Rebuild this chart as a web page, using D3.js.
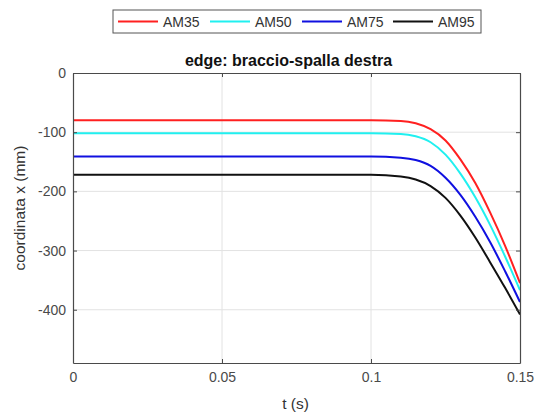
<!DOCTYPE html>
<html><head><meta charset="utf-8">
<script src="https://cdn.jsdelivr.net/npm/d3@7"></script>
<style>body{margin:0;background:#fff}svg{display:block}text{font-family:"Liberation Sans",Arial,sans-serif}</style>
</head><body><svg id="c" width="542" height="418"></svg>
<script>
const times = [0, 0.05, 0.1, 0.11, 0.115, 0.12, 0.125, 0.13, 0.135, 0.14, 0.145, 0.15];
const am35 = [-80, -80, -80, -81, -85, -95, -114, -146, -186, -236, -292, -355];
const am50 = [-102, -102, -102, -103, -107, -117, -138, -170, -210, -257, -310, -367];
const am75 = [-141, -141, -141, -143, -147, -157, -177, -206, -243, -286, -335, -387];
const am95 = [-172, -172, -172, -175, -180, -191, -211, -241, -278, -320, -363, -408];
const seriesNames = ["AM35", "AM50", "AM75", "AM95"];
const seriesColors = ["#ff2020", "#20f0f0", "#1010e0", "#111111"];
const xTicks = [0, 0.05, 0.1, 0.15];
const xTickLabels = ["0", "0.05", "0.1", "0.15"];
const yTicks = [0, -100, -200, -300, -400];
const yTickLabels = ["0", "-100", "-200", "-300", "-400"];
const series = [am35, am50, am75, am95];

const svg = d3.select("#c");
const L = 73, R = 520, T = 73, B = 363;
const x = d3.scaleLinear().domain([0, 0.15]).range([L, R]);
const y = d3.scaleLinear().domain([-490, 0]).range([B, T]);

// grid
svg.append("g").selectAll("line").data(xTicks.slice(1, -1)).join("line")
  .attr("x1", d => x(d)).attr("x2", d => x(d)).attr("y1", T).attr("y2", B)
  .attr("stroke", "#e2e2e2").attr("stroke-width", 1);
svg.append("g").selectAll("line").data(yTicks.slice(1)).join("line")
  .attr("x1", L).attr("x2", R).attr("y1", d => y(d)).attr("y2", d => y(d))
  .attr("stroke", "#e2e2e2").attr("stroke-width", 1);

// lines
const line = d3.line().x((d, i) => x(times[i])).y(d => y(d)).curve(d3.curveMonotoneX);
series.forEach((s, k) => {
  svg.append("path").attr("d", line(s)).attr("fill", "none")
    .attr("stroke", seriesColors[k]).attr("stroke-width", 2);
});

// axes (MATLAB style, inner ticks, box)
const ax = "#4a4a4a";
const xb = svg.append("g").attr("transform", `translate(0,${B})`)
  .call(d3.axisBottom(x).tickValues(xTicks).tickFormat((d, i) => xTickLabels[i]).tickSizeInner(-4).tickSizeOuter(0).tickPadding(9));
const xt = svg.append("g").attr("transform", `translate(0,${T})`)
  .call(d3.axisTop(x).tickValues(xTicks).tickFormat("").tickSizeInner(-4).tickSizeOuter(0));
const yl = svg.append("g").attr("transform", `translate(${L},0)`)
  .call(d3.axisLeft(y).tickValues(yTicks).tickFormat((d, i) => yTickLabels[i]).tickSizeInner(-4).tickSizeOuter(0).tickPadding(7));
const yr = svg.append("g").attr("transform", `translate(${R},0)`)
  .call(d3.axisRight(y).tickValues(yTicks).tickFormat("").tickSizeInner(-4).tickSizeOuter(0));
[xb, xt, yl, yr].forEach(g => {
  g.select(".domain").attr("stroke", ax).attr("stroke-width", 1.2);
  g.selectAll(".tick line").attr("stroke", ax);
  g.selectAll("text").attr("fill", "#4a4a4a").attr("font-size", 14).attr("font-family", "'Liberation Sans',Arial,sans-serif");
});

// title & labels
svg.append("text").attr("x", (L + R) / 2 - 8).attr("y", 66).attr("text-anchor", "middle")
  .attr("font-size", 16).attr("font-weight", "bold").attr("fill", "#111").text("edge: braccio-spalla destra");
svg.append("text").attr("x", (L + R) / 2 - 1).attr("y", 409).attr("text-anchor", "middle")
  .attr("font-size", 15.5).attr("fill", "#333").text("t (s)");
svg.append("text").attr("transform", `translate(25,${(T + B) / 2 - 10}) rotate(-90)`).attr("text-anchor", "middle")
  .attr("font-size", 15.5).attr("fill", "#333").text("coordinata x (mm)");

// legend
const lg = svg.append("g");
lg.append("rect").attr("x", 113).attr("y", 10).attr("width", 368).attr("height", 23)
  .attr("fill", "#fff").attr("stroke", "#555").attr("stroke-width", 1);
const lx = [118, 210, 302, 393];
seriesNames.forEach((n, k) => {
  lg.append("line").attr("x1", lx[k]).attr("x2", lx[k] + 40).attr("y1", 21.5).attr("y2", 21.5)
    .attr("stroke", seriesColors[k]).attr("stroke-width", 2);
  lg.append("text").attr("x", lx[k] + 45).attr("y", 26.5).attr("font-size", 14).attr("fill", "#333").text(n);
});
</script></body></html>
